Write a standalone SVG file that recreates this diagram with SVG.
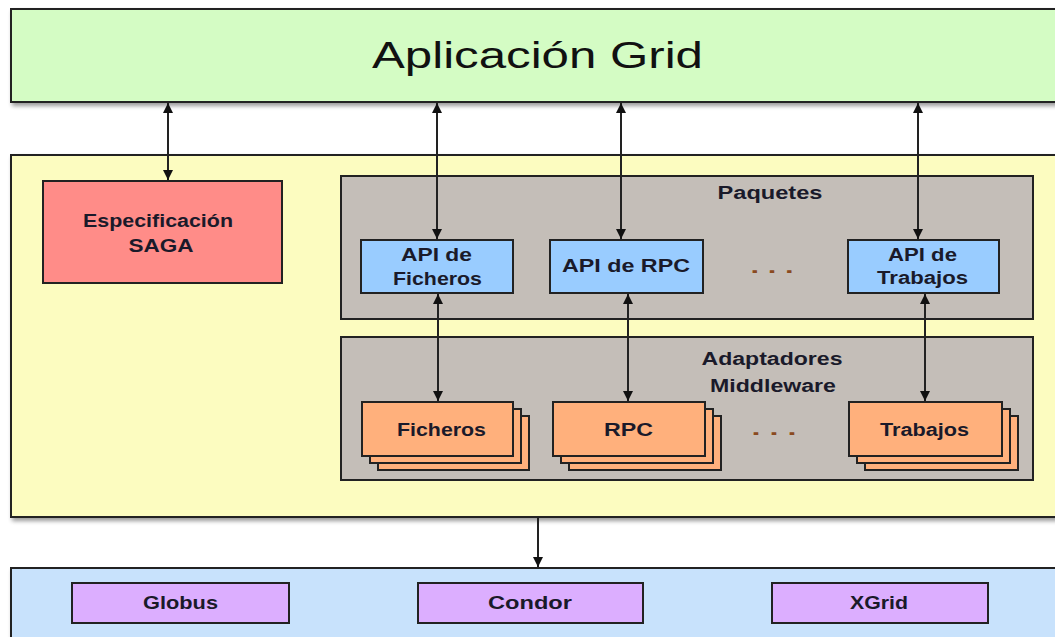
<svg xmlns="http://www.w3.org/2000/svg" width="1055" height="637" viewBox="0 0 1055 637">
<style>
.box{stroke:#222;stroke-width:2}
.t{font-family:"Liberation Sans",Arial,sans-serif;font-weight:bold;font-size:18px;fill:#1a1a2a;text-anchor:middle}
.title{font-family:"Liberation Sans",Arial,sans-serif;font-size:37px;fill:#111;text-anchor:middle}
.dots{font-family:"Liberation Sans",Arial,sans-serif;font-weight:bold;font-size:18px;fill:#8a4a20;text-anchor:middle}
.c{stroke:#222;stroke-width:2;fill:none}
</style>
<defs>
<filter id="sh" x="-5%" y="-5%" width="110%" height="120%">
<feGaussianBlur in="SourceAlpha" stdDeviation="2"/>
<feOffset dx="2" dy="3"/>
<feComponentTransfer><feFuncA type="linear" slope="0.4"/></feComponentTransfer>
<feMerge><feMergeNode/><feMergeNode in="SourceGraphic"/></feMerge>
</filter>
<marker id="ah" viewBox="0 0 10 10" refX="10" refY="5" markerWidth="5" markerHeight="5" orient="auto-start-reverse">
<path d="M0,0 L10,5 L0,10 z" fill="#111"/>
</marker>
</defs>
<rect width="1055" height="637" fill="#fff"/>

<g id="app">
<rect class="box" x="11" y="9" width="1060" height="93" fill="#d4fcc4" filter="url(#sh)"/>
<text class="title" x="537.5" y="68" textLength="331" lengthAdjust="spacingAndGlyphs">Aplicación Grid</text>
</g>

<g id="saga-layer">
<rect class="box" x="11" y="155" width="1060" height="362" fill="#fcfcc0" filter="url(#sh)"/>
</g>

<g id="saga-spec">
<rect class="box" x="43" y="181" width="239" height="102" fill="#ff8c88"/>
<text class="t" x="158" y="227" textLength="150" lengthAdjust="spacingAndGlyphs">Especificación</text>
<text class="t" x="161" y="252" textLength="65" lengthAdjust="spacingAndGlyphs">SAGA</text>
</g>

<g id="paquetes">
<rect class="box" x="341" y="176" width="692" height="143" fill="#c4beb8"/>
<text class="t" x="770" y="199" textLength="105" lengthAdjust="spacingAndGlyphs">Paquetes</text>
<text class="dots" x="772" y="273" textLength="43" lengthAdjust="spacingAndGlyphs">. . .</text>
</g>

<g id="api-ficheros">
<rect class="box" x="361" y="240" width="152" height="53" fill="#99ccff"/>
<text class="t" x="436.5" y="261" textLength="71" lengthAdjust="spacingAndGlyphs">API de</text>
<text class="t" x="437.5" y="285" textLength="89" lengthAdjust="spacingAndGlyphs">Ficheros</text>
</g>
<g id="api-rpc">
<rect class="box" x="550" y="240" width="153" height="53" fill="#99ccff"/>
<text class="t" x="626" y="272" textLength="128" lengthAdjust="spacingAndGlyphs">API de RPC</text>
</g>
<g id="api-trabajos">
<rect class="box" x="848" y="240" width="151" height="53" fill="#99ccff"/>
<text class="t" x="922.5" y="261" textLength="69" lengthAdjust="spacingAndGlyphs">API de</text>
<text class="t" x="922.5" y="284" textLength="91" lengthAdjust="spacingAndGlyphs">Trabajos</text>
</g>

<g id="adaptadores">
<rect class="box" x="341" y="337" width="692" height="143" fill="#c4beb8"/>
<text class="t" x="772" y="365" textLength="141" lengthAdjust="spacingAndGlyphs">Adaptadores</text>
<text class="t" x="773" y="392" textLength="126" lengthAdjust="spacingAndGlyphs">Middleware</text>
<text class="dots" x="774" y="435" textLength="45" lengthAdjust="spacingAndGlyphs">. . .</text>
</g>

<g id="ad-ficheros">
<rect class="box" x="378" y="416" width="151" height="54" fill="#ffb07c"/>
<rect class="box" x="370" y="409" width="151" height="54" fill="#ffb07c"/>
<rect class="box" x="362" y="402" width="151" height="54" fill="#ffb07c"/>
<text class="t" x="441.5" y="436" textLength="89" lengthAdjust="spacingAndGlyphs">Ficheros</text>
</g>
<g id="ad-rpc">
<rect class="box" x="569" y="416" width="152" height="54" fill="#ffb07c"/>
<rect class="box" x="561" y="409" width="152" height="54" fill="#ffb07c"/>
<rect class="box" x="553" y="402" width="152" height="54" fill="#ffb07c"/>
<text class="t" x="628.5" y="436" textLength="49" lengthAdjust="spacingAndGlyphs">RPC</text>
</g>
<g id="ad-trabajos">
<rect class="box" x="865" y="416" width="153" height="54" fill="#ffb07c"/>
<rect class="box" x="857" y="409" width="153" height="54" fill="#ffb07c"/>
<rect class="box" x="849" y="402" width="153" height="54" fill="#ffb07c"/>
<text class="t" x="924.5" y="436" textLength="89" lengthAdjust="spacingAndGlyphs">Trabajos</text>
</g>

<g id="middleware">
<rect class="box" x="11" y="568" width="1060" height="80" fill="#c8e2fc" filter="url(#sh)"/>
</g>
<g id="globus">
<rect class="box" x="72" y="583" width="217" height="40" fill="#dcaeff"/>
<text class="t" x="180.5" y="609" textLength="75" lengthAdjust="spacingAndGlyphs">Globus</text>
</g>
<g id="condor">
<rect class="box" x="418" y="583" width="225" height="40" fill="#dcaeff"/>
<text class="t" x="530" y="609" textLength="84" lengthAdjust="spacingAndGlyphs">Condor</text>
</g>
<g id="xgrid">
<rect class="box" x="772" y="583" width="216" height="40" fill="#dcaeff"/>
<text class="t" x="879" y="609" textLength="58" lengthAdjust="spacingAndGlyphs">XGrid</text>
</g>

<g id="connectors">
<line class="c" x1="168" y1="103" x2="168" y2="180" marker-start="url(#ah)" marker-end="url(#ah)"/>
<line class="c" x1="437" y1="103" x2="437" y2="239" marker-start="url(#ah)" marker-end="url(#ah)"/>
<line class="c" x1="621" y1="103" x2="621" y2="239" marker-start="url(#ah)" marker-end="url(#ah)"/>
<line class="c" x1="918" y1="103" x2="918" y2="239" marker-start="url(#ah)" marker-end="url(#ah)"/>
<line class="c" x1="438" y1="294" x2="438" y2="401" marker-start="url(#ah)" marker-end="url(#ah)"/>
<line class="c" x1="628" y1="294" x2="628" y2="401" marker-start="url(#ah)" marker-end="url(#ah)"/>
<line class="c" x1="925" y1="294" x2="925" y2="401" marker-start="url(#ah)" marker-end="url(#ah)"/>
<line class="c" x1="538" y1="518" x2="538" y2="567" marker-end="url(#ah)"/>
</g>
</svg>
